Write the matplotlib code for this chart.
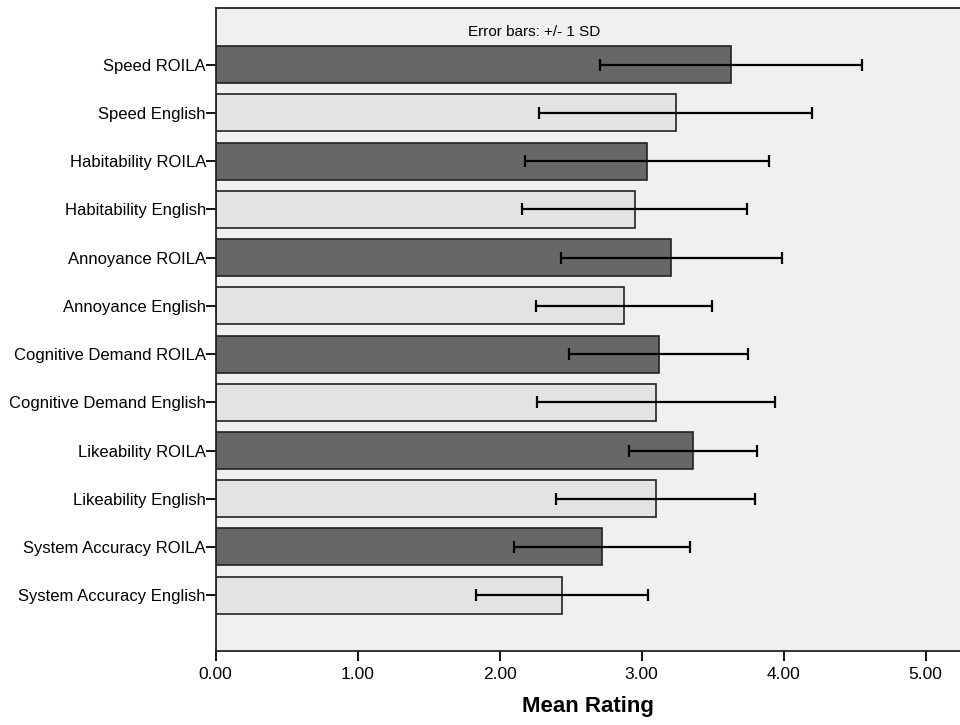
import matplotlib
matplotlib.use("Agg")
import matplotlib.pyplot as plt

# ── data ──────────────────────────────────────────────────────────────────────
labels = [
    "Speed ROILA", "Speed English",
    "Habitability ROILA", "Habitability English",
    "Annoyance ROILA", "Annoyance English",
    "Cognitive Demand ROILA", "Cognitive Demand English",
    "Likeability ROILA", "Likeability English",
    "System Accuracy ROILA", "System Accuracy English",
]
means = [3.63, 3.24, 3.04, 2.95, 3.21, 2.875, 3.12, 3.10, 3.36, 3.10, 2.72, 2.44]
sds = [0.92, 0.96, 0.86, 0.795, 0.775, 0.62, 0.63, 0.84, 0.45, 0.70, 0.62, 0.605]
xticks = [0, 1, 2, 3, 4, 5]

plt.rcParams["font.family"] = ["Liberation Sans", "DejaVu Sans"]

fig = plt.figure(figsize=(9.6, 7.25), dpi=100)
ax = fig.add_axes([0.2247, 0.1014, 0.7753, 0.8876])
ax.set_facecolor("#f0f0f0")

pos = list(range(len(labels)))
colors = ["#676767" if "ROILA" in l else "#e3e3e3" for l in labels]
ax.barh(pos, means, height=0.767, color=colors, edgecolor="#222222", linewidth=1.2, zorder=2)
ax.errorbar(means, pos, xerr=sds, fmt="none", ecolor="black", elinewidth=1.6,
            capsize=4.3, capthick=1.6, zorder=3)

ax.set_xlim(0, 5.242)
ax.set_ylim(12.167, -1.176)
ax.set_yticks(pos)
ax.set_yticklabels(labels, fontsize=12)
ax.set_xticks(xticks)
ax.set_xticklabels([f"{v:.2f}" for v in xticks], fontsize=12.5)
ax.tick_params(axis="x", length=7, width=1.3, pad=4, color="black")
ax.tick_params(axis="y", length=7, width=1.3, pad=0, color="black")

for s in ["left", "bottom", "top"]:
    ax.spines[s].set_color("#222222")
    ax.spines[s].set_linewidth(1.3)
ax.spines["right"].set_visible(False)

ax.text(0.4277, 0.963, "Error bars: +/- 1 SD", transform=ax.transAxes,
        ha="center", va="center", fontsize=11)
ax.set_xlabel("Mean Rating", fontsize=16, fontweight="bold", labelpad=10)

fig.savefig("out.png", dpi=100)
